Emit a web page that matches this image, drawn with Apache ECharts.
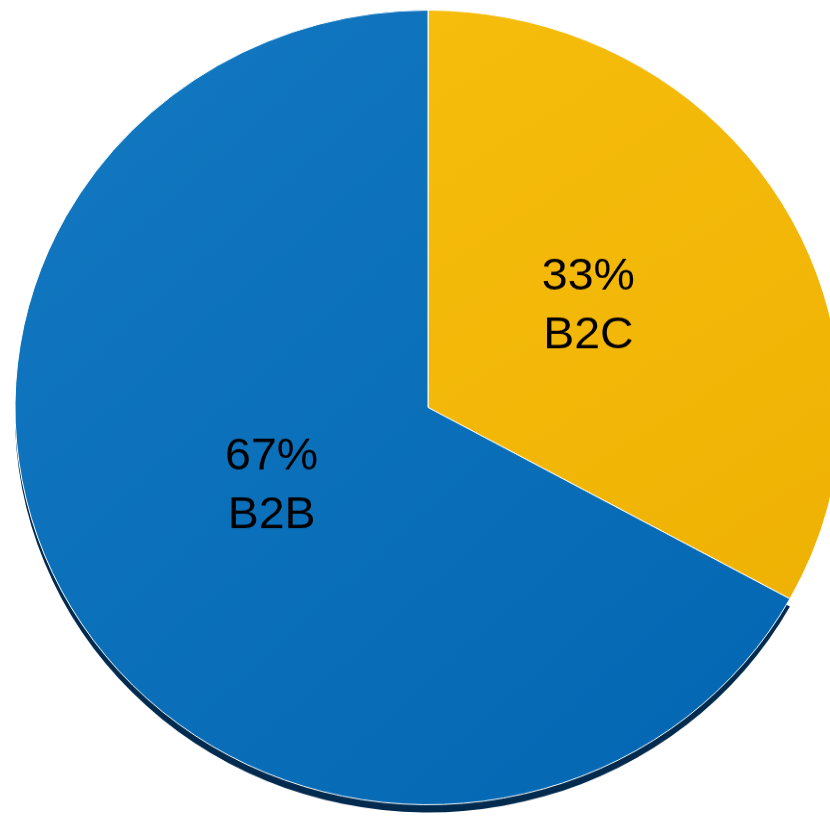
<!DOCTYPE html>
<html>
<head>
<meta charset="utf-8">
<script src="https://cdn.jsdelivr.net/npm/echarts@6/dist/echarts.min.js"></script>
<style>
html,body{margin:0;padding:0;background:#fff;overflow:hidden;}
#wrap{width:830px;height:819px;overflow:hidden;position:relative;}
#chart{width:830px;height:851px;transform:scaleY(0.962);transform-origin:0 0;}
</style>
</head>
<body>
<div id="wrap"><div id="chart"></div></div>
<script>
const categories = ['B2C', 'B2B'];
const values = [33, 67];
const colorsLight = ['#f6bd0c', '#1379c1'];
const colorsDark = ['#efb204', '#0366b2'];
const shadowColor = '#002a4e';

const chart = echarts.init(document.getElementById('chart'), null, {renderer: 'canvas'});

function grad(i) {
  return new echarts.graphic.LinearGradient(0, 0, 1, 1, [
    {offset: 0, color: colorsLight[i]},
    {offset: 1, color: colorsDark[i]}
  ]);
}

const shadowData = categories.map((c, i) => ({
  name: c,
  value: values[i],
  itemStyle: {color: c === 'B2B' ? shadowColor : 'rgba(0,0,0,0)'}
}));

const sliceData = categories.map((c, i) => ({
  name: c,
  value: values[i],
  itemStyle: {color: grad(i), borderColor: '#ffffff', borderWidth: 1}
}));

const labelData = categories.map((c, i) => ({
  name: c,
  value: values[i],
  itemStyle: {color: 'rgba(0,0,0,0)'}
}));

const common = {
  type: 'pie',
  startAngle: 90,
  clockwise: true,
  silent: true,
  emphasis: {disabled: true},
  labelLine: {show: false}
};

chart.setOption({
  animation: false,
  series: [
    Object.assign({}, common, {
      center: [428, 431.5],
      radius: [0, 413],
      label: {show: false},
      data: shadowData
    }),
    Object.assign({}, common, {
      center: [428, 423.5],
      radius: [0, 413],
      label: {show: false},
      data: sliceData
    }),
    Object.assign({}, common, {
      center: [430, 412],
      radius: [0, 362],
      label: {
        show: true,
        position: 'inside',
        formatter: '{d}%\n{b}',
        fontFamily: 'Liberation Sans, Arial, sans-serif',
        fontSize: 46.5,
        lineHeight: 61,
        color: '#000000',
        textBorderWidth: 0
      },
      data: labelData
    })
  ]
});
</script>
</body>
</html>
